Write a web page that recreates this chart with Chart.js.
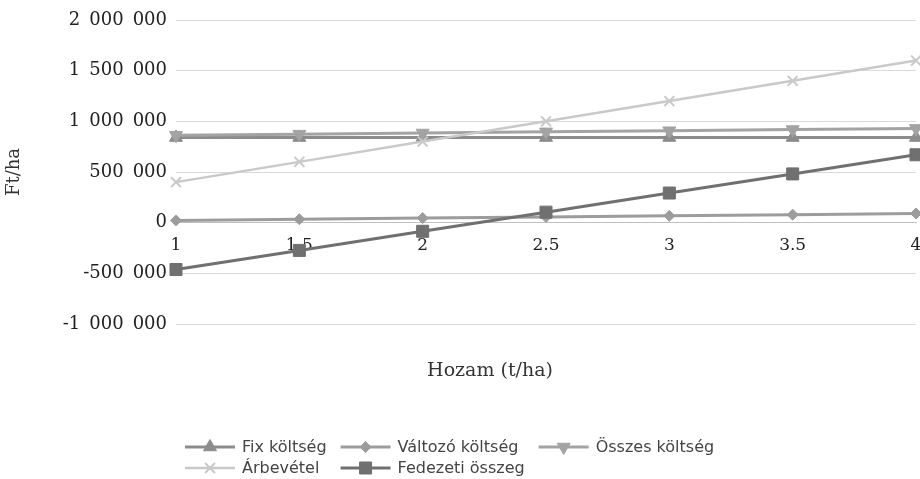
<!DOCTYPE html>
<html>
<head>
<meta charset="utf-8">
<script src="https://cdn.jsdelivr.net/npm/chart.js@4.4.1/dist/chart.umd.min.js"></script>
<style>
  html, body { margin: 0; padding: 0; background: #fff; }
  #wrap { width: 920px; height: 479px; position: relative; }
</style>
</head>
<body>
<div id="wrap"><canvas id="chart"></canvas></div>
<script>
// Hozam (t/ha) kategóriák
const yieldLabels = ['1', '1.5', '2', '2.5', '3', '3.5', '4']

// Ft/ha értékek
const fixCost   = [840000, 840000, 840000, 840000, 840000, 840000, 840000]
const varCost   = [22500, 33750, 45000, 56250, 67500, 78750, 90000]
const totalCost = [862500, 873750, 885000, 896250, 907500, 918750, 930000]
const revenue   = [400000, 600000, 800000, 1000000, 1200000, 1400000, 1600000]
const margin    = [-462500, -273750, -85000, 103750, 292500, 481250, 670000]

const yTicks = {min: -1000000, max: 2000000, step: 500000}

const seriesNames = ['Fix költség', 'Változó költség', 'Összes költség', 'Árbevétel', 'Fedezeti összeg']

const fmt = v => {
    const s = Math.abs(v).toString().replace(/\B(?=(\d{3})+(?!\d))/g, '\u2002')
    return (v < 0 ? '-' : '') + s
}

const serif = 'DejaVu Serif'

// x tengely címe + Excel-szerű jelmagyarázat (vonal + jelölő)
const extras = {
    id: 'extras',
    afterDraw (chart) {
        const ctx = chart.ctx
        ctx.save()
        ctx.fillStyle = '#333'
        ctx.font = '19px "' + serif + '"'
        ctx.textAlign = 'center'
        ctx.textBaseline = 'middle'
        ctx.fillText('Hozam (t/ha)', 490, 371)

        ctx.font = '16px "DejaVu Sans"'
        ctx.textAlign = 'left'
        const ds = chart.data.datasets
        const cols = 3, lineW = 50, gap = 7, colGap = 14
        const widths = []
        ds.forEach((d, i) => {
            const c = i % cols
            const w = lineW + gap + ctx.measureText(d.label).width
            widths[c] = Math.max(widths[c] || 0, w)
        })
        const total = widths.reduce((a, b) => a + b, 0) + colGap * (cols - 1)
        const x0 = Math.round((chart.width - total) / 2) - 10
        ds.forEach((d, i) => {
            const c = i % cols, r = Math.floor(i / cols)
            let x = x0
            for (let k = 0; k < c; k++) x += widths[k] + colGap
            const y = 447 + r * 21
            ctx.strokeStyle = d.borderColor
            ctx.lineWidth = d.borderWidth
            ctx.beginPath()
            ctx.moveTo(x, y)
            ctx.lineTo(x + lineW, y)
            ctx.stroke()
            ctx.fillStyle = d.pointBackgroundColor
            ctx.strokeStyle = d.pointBorderColor
            ctx.lineWidth = d.pointBorderWidth
            Chart.helpers.drawPoint(ctx, {
                pointStyle: d.pointStyle,
                radius: d.pointRadius,
                rotation: d.pointRotation || 0,
                borderWidth: d.pointBorderWidth
            }, x + lineW / 2, y)
            ctx.fillStyle = '#444'
            ctx.fillText(d.label, x + lineW + gap, y + 1)
        })
        ctx.restore()
    }
}

const mk = (label, data, color, style, radius, extra) => Object.assign({
    label: label,
    data: data,
    borderColor: color,
    backgroundColor: color,
    pointBackgroundColor: color,
    pointBorderColor: color,
    pointBorderWidth: 1,
    borderWidth: 3,
    pointStyle: style,
    pointRadius: radius,
    pointHoverRadius: radius,
    tension: 0
}, extra || {})

const ctx = document.getElementById('chart').getContext('2d')
new Chart(ctx, {
    type: 'line',
    data: {
        labels: yieldLabels,
        datasets: [
            mk(seriesNames[0], fixCost, '#8c8c8c', 'triangle', 7.5, {order: 5}),
            mk(seriesNames[1], varCost, '#9c9c9c', 'rectRot', 5.5, {order: 4}),
            mk(seriesNames[2], totalCost, '#a3a3a3', 'triangle', 7.5, {order: 3, pointRotation: 180}),
            mk(seriesNames[3], revenue, '#c9c9c9', 'crossRot', 7, {order: 2, borderWidth: 2.5, pointBorderWidth: 2}),
            mk(seriesNames[4], margin, '#707070', 'rect', 8.5, {order: 1})
        ]
    },
    options: {
        responsive: true,
        maintainAspectRatio: false,
        animation: false,
        layout: {autoPadding: false, padding: {top: 20, right: 4, bottom: 155, left: 0}},
        plugins: {
            legend: {display: false},
            tooltip: {enabled: false}
        },
        scales: {
            x: {
                type: 'category',
                position: {y: 0},
                offset: false,
                afterFit (scale) { scale.paddingRight = 0; scale.paddingLeft = 0 },
                grid: {display: false, drawTicks: false},
                border: {display: true, color: '#bfbfbf', width: 1},
                ticks: {
                    color: '#222',
                    padding: 13,
                    maxRotation: 0,
                    autoSkip: false,
                    font: {family: serif, size: 17}
                }
            },
            y: {
                min: yTicks.min,
                max: yTicks.max,
                afterFit (scale) { scale.width = 176 },
                grid: {color: '#d9d9d9', lineWidth: 1, drawTicks: false},
                border: {display: false},
                ticks: {
                    stepSize: yTicks.step,
                    color: '#222',
                    padding: 9,
                    font: {family: serif, size: 18},
                    callback: v => fmt(v)
                },
                title: {
                    display: true,
                    text: 'Ft/ha',
                    color: '#333',
                    padding: {top: 4, bottom: 0},
                    font: {family: serif, size: 18}
                }
            }
        }
    },
    plugins: [extras]
})
</script>
</body>
</html>
